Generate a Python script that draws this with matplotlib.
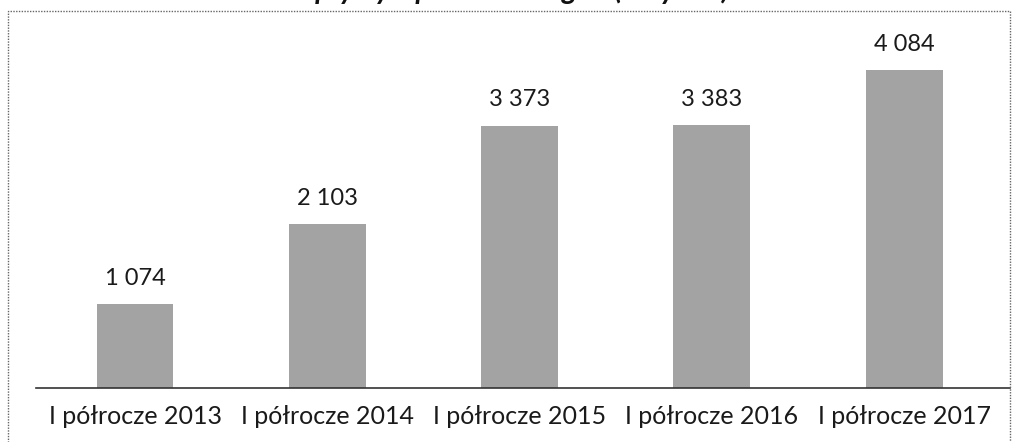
import matplotlib.pyplot as plt
from matplotlib.patches import Rectangle

categories = ["I półrocze 2013", "I półrocze 2014", "I półrocze 2015",
              "I półrocze 2016", "I półrocze 2017"]
values = [1074, 2103, 3373, 3383, 4084]
labels = ["1 074", "2 103", "3 373", "3 383", "4 084"]
title = "Wpływy z podatku od gier (w tys. zł)"

plt.rcParams["font.family"] = ["Lato", "DejaVu Sans"]

fig = plt.figure(figsize=(10.16, 4.42), dpi=100)
ax = fig.add_axes([36 / 1016, 1 - 388 / 442, (1010 - 36) / 1016, 368 / 442])

x = list(range(len(categories)))
ax.bar(x, values, width=0.4, color="#a3a3a3")
for xi, v, lab in zip(x, values, labels):
    ax.annotate(lab, (xi, v), xytext=(0, 11), textcoords="offset points",
                ha="center", va="bottom", fontsize=17, color="#1a1a1a")

ax.set_xlim(-0.515, 4.55)
ax.set_ylim(0, 4730)
ax.set_xticks(x)
ax.set_xticklabels(categories, fontsize=18, color="#1a1a1a")
ax.tick_params(axis="x", length=0, pad=12)
ax.set_yticks([])
for s in ["top", "left", "right"]:
    ax.spines[s].set_visible(False)
ax.spines["bottom"].set_color("#333333")
ax.spines["bottom"].set_linewidth(1.2)

# dotted frame of the chart area
fig.add_artist(Rectangle((8 / 1016, -0.05), 1002 / 1016, 1.05 - 11 / 442,
                         transform=fig.transFigure, fill=False,
                         linestyle=(0, (1, 1)), edgecolor="#666666", lw=1))

# title clipped at top edge, as in the scan
fig.text(0.5, 1 - 4 / 442, title, ha="center", va="bottom", fontsize=21,
         fontweight="bold", fontstyle="italic", color="#111111")

fig.savefig("out.png", dpi=100)
